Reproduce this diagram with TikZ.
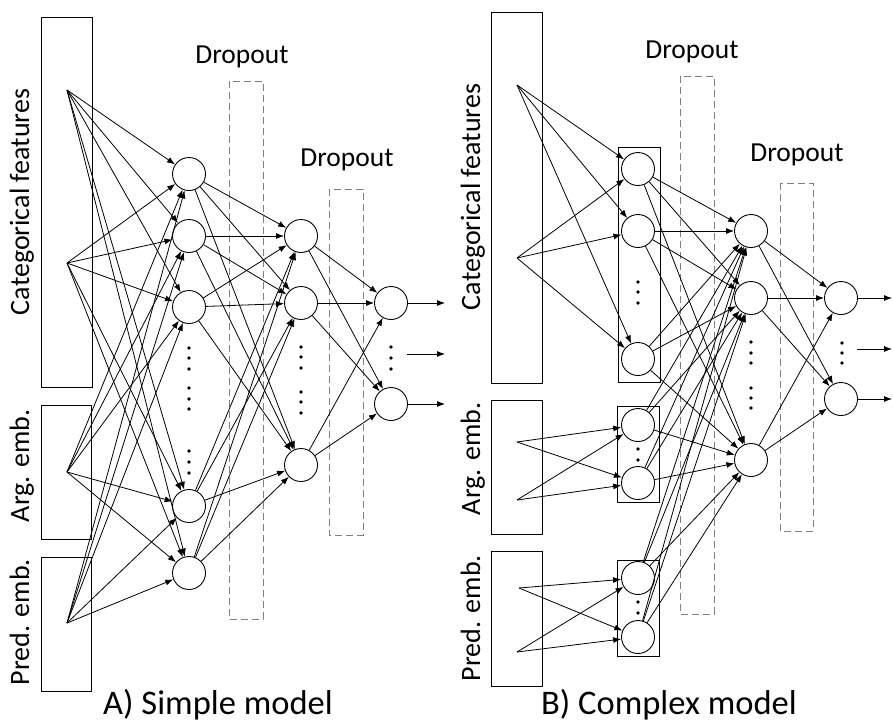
\documentclass[tikz,border=0pt]{standalone}
\usepackage{fontspec}
\setmainfont{Carlito}
\usetikzlibrary{arrows.meta}
\begin{document}
\begin{tikzpicture}[x=1pt,y=-1pt,
  neuron/.style={circle,draw,fill=white,minimum size=33pt,inner sep=0pt,line width=0.9pt},
  inbox/.style={draw,line width=0.9pt},
  dropbox/.style={draw=gray,line width=0.9pt,dash pattern=on 7pt off 4pt},
  conn/.style={line width=0.8pt,-{Latex[length=8pt,width=6pt]}},
  vlabel/.style={rotate=90,anchor=base,font=\fontsize{28}{32}\selectfont,inner sep=0pt},
  droplabel/.style={anchor=base,font=\fontsize{27.5}{32}\selectfont,inner sep=0pt},
  caption/.style={anchor=base,font=\fontsize{34.5}{40}\selectfont,inner sep=0pt},
  dotmark/.style={fill,circle,inner sep=0pt,minimum size=3.6pt}]
\useasboundingbox (0,0) rectangle (893,724);

% ---------------- Panel A ----------------
\draw[inbox] (41,17) rectangle (92,387);
\draw[inbox] (41,405) rectangle (91,539);
\draw[inbox] (41,557) rectangle (91,691);
\node[vlabel] (lcat) at (29,202) {Categorical features};
\node[vlabel] (larg) at (29,466) {Arg. emb.};
\node[vlabel] (lpred) at (29,622) {Pred. emb.};

\draw[dropbox] (229,81) rectangle (263,619);
\draw[dropbox] (329,189) rectangle (363,535);
\node[droplabel] (ld1) at (242,63) {Dropout};
\node[droplabel] (ld2) at (347,166) {Dropout};

\coordinate (s1) at (67,90);
\coordinate (s2) at (67,263);
\coordinate (s3) at (67,472);
\coordinate (s4) at (67,623);

\node[neuron] (a1) at (189,174) {};
\node[neuron] (a2) at (189,236) {};
\node[neuron] (a3) at (189,307) {};
\node[neuron] (a4) at (189,506) {};
\node[neuron] (a5) at (189,573) {};
\node[neuron] (b1) at (301,236) {};
\node[neuron] (b2) at (301,303) {};
\node[neuron] (b3) at (301,465) {};
\node[neuron] (c1) at (391,303) {};
\node[neuron] (c2) at (391,404) {};

\foreach \s in {s1,s2,s3,s4}
  \foreach \t in {a1,a2,a3,a4,a5}
    \draw[conn] (\s) -- (\t);
\foreach \s in {a1,a2,a3,a4,a5}
  \foreach \t in {b1,b2,b3}
    \draw[conn] (\s) -- (\t);
\foreach \s in {b1,b2,b3}
  \foreach \t in {c1,c2}
    \draw[conn] (\s) -- (\t);

\coordinate (ao1) at (445,303);
\coordinate (ao2) at (445,404);
\coordinate (aom) at (407,354);
\coordinate (aom2) at (445,354);
\draw[conn] (c1) -- (ao1);
\draw[conn] (c2) -- (ao2);
\draw[conn] (aom) -- (aom2);

\foreach \y in {348,358,369,388,399,409,451,462,473}
  \node[dotmark] at (189,\y) {};
\foreach \y in {347,357,368,392,402,413}
  \node[dotmark] at (301,\y) {};
\foreach \y in {347,358,369}
  \node[dotmark] at (391,\y) {};

\node[caption] (capA) at (218,714) {A) Simple model};

% ---------------- Panel B ----------------
\draw[inbox] (491,12) rectangle (542,383);
\draw[inbox] (491,400) rectangle (542,534);
\draw[inbox] (491,551) rectangle (542,686);
\node[vlabel] (rcat) at (480,197) {Categorical features};
\node[vlabel] (rarg) at (480,459) {Arg. emb.};
\node[vlabel] (rpred) at (480,618) {Pred. emb.};

\draw[dropbox] (680,76) rectangle (714,614);
\draw[dropbox] (780,183) rectangle (813,531);
\node[droplabel] (rd1) at (692,58) {Dropout};
\node[droplabel] (rd2) at (797,161) {Dropout};

\draw[inbox] (618,147) rectangle (660,382);
\draw[inbox] (617,406) rectangle (659,502);
\draw[inbox] (617,560) rectangle (659,656);

\coordinate (r1) at (517,85);
\coordinate (r2) at (517,258);
\coordinate (r3) at (517,442);
\coordinate (r4) at (517,500);
\coordinate (r5) at (519,588);
\coordinate (r6) at (517,652);

\node[neuron] (d1) at (638,169) {};
\node[neuron] (d2) at (638,231) {};
\node[neuron] (d3) at (638,359) {};
\node[neuron] (d4) at (638,425) {};
\node[neuron] (d5) at (638,483) {};
\node[neuron] (d6) at (638,578) {};
\node[neuron] (d7) at (638,637) {};
\node[neuron] (e1) at (751,231) {};
\node[neuron] (e2) at (751,298) {};
\node[neuron] (e3) at (751,460) {};
\node[neuron] (f1) at (841,298) {};
\node[neuron] (f2) at (841,399) {};

\foreach \s in {r1,r2}
  \foreach \t in {d1,d2,d3}
    \draw[conn] (\s) -- (\t);
\foreach \s in {r3,r4}
  \foreach \t in {d4,d5}
    \draw[conn] (\s) -- (\t);
\foreach \s in {r5,r6}
  \foreach \t in {d6,d7}
    \draw[conn] (\s) -- (\t);
\foreach \s in {d1,d2,d3,d4,d5,d6,d7}
  \foreach \t in {e1,e2,e3}
    \draw[conn] (\s) -- (\t);
\foreach \s in {e1,e2,e3}
  \foreach \t in {f1,f2}
    \draw[conn] (\s) -- (\t);

\coordinate (bo1) at (892,298);
\coordinate (bo2) at (892,399);
\coordinate (bom) at (857,349);
\coordinate (bom2) at (892,349);
\draw[conn] (f1) -- (bo1);
\draw[conn] (f2) -- (bo2);
\draw[conn] (bom) -- (bom2);

\foreach \y in {282,292,303,449,460,602,613}
  \node[dotmark] at (638,\y) {};
\foreach \y in {342,353,363,388,398,408}
  \node[dotmark] at (751,\y) {};
\foreach \y in {343,353,363}
  \node[dotmark] at (842,\y) {};

\node[caption] (capB) at (669,714) {B) Complex model};
\end{tikzpicture}
\end{document}
